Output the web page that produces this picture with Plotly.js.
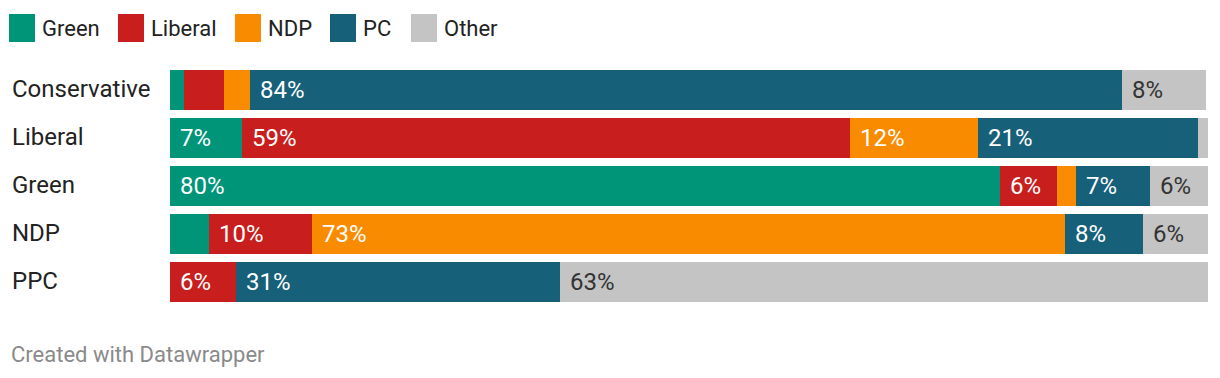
<!DOCTYPE html>
<html>
<head>
<meta charset="utf-8">
<script src="https://cdn.plot.ly/plotly-3.0.1.min.js"></script>
<style>
html,body{margin:0;padding:0;background:#fff;}
#chart{width:1220px;height:378px;}
</style>
</head>
<body>
<div id="chart"></div>
<script>
// Data
var categories = ["Conservative", "Liberal", "Green", "NDP", "PPC"];
var seriesNames = ["Green", "Liberal", "NDP", "PC", "Other"];
var greenVals   = [1.35, 6.94, 79.95, 3.8, 0];
var liberalVals = [3.85, 58.57, 5.5, 9.9, 6.4];
var ndpVals     = [2.5, 12.33, 1.85, 72.5, 0];
var pcVals      = [84.0, 21.19, 7.1, 7.55, 31.2];
var otherVals   = [8.09, 0.96, 5.6, 6.25, 62.6];

var seriesValues = [greenVals, liberalVals, ndpVals, pcVals, otherVals];
var colors = ["#009479", "#c81e1e", "#f98b00", "#17607a", "#c4c4c4"];
var labelColors = ["#ffffff", "#ffffff", "#ffffff", "#ffffff", "#333333"];
var FONT = "Roboto, 'Noto Sans', sans-serif";

var traces = seriesValues.map(function(vals, i){
  return {
    type: "bar",
    orientation: "h",
    name: seriesNames[i],
    y: categories,
    x: vals,
    marker: {color: colors[i], line: {width: 0}},
    showlegend: false,
    hoverinfo: "x+name"
  };
});

var annotations = [];
var shapes = [];
var PW = 1038, PH = 240, PT = 66, PL = 170;
function px(x){ return (x - PL) / PW; }
function py(y){ return (PT + PH - y) / PH; }

// category labels
categories.forEach(function(c){
  annotations.push({
    xref: "paper", yref: "y", x: 0, y: c, xshift: -160, yshift: 1,
    xanchor: "left", yanchor: "middle", text: c, showarrow: false,
    font: {family: FONT, size: 24, color: "#222222"}
  });
});

// value labels
categories.forEach(function(c, ci){
  var cum = 0;
  seriesValues.forEach(function(vals, si){
    var v = vals[ci];
    if (v >= 5) {
      annotations.push({
        xref: "x", yref: "y", x: cum, y: c, xshift: 8,
        xanchor: "left", yanchor: "middle",
        text: Math.round(v) + "%", showarrow: false,
        font: {family: FONT, size: 24, color: labelColors[si]}
      });
    }
    cum += v;
  });
});

// legend (manual)
var legendX = [9, 118, 235, 330, 411];
seriesNames.forEach(function(n, i){
  var x0 = legendX[i];
  shapes.push({
    type: "rect", xref: "paper", yref: "paper",
    x0: px(x0), x1: px(x0 + 26),
    y0: py(42), y1: py(14),
    fillcolor: colors[i], line: {width: 0}
  });
  annotations.push({
    xref: "paper", yref: "paper",
    x: px(x0 + 31), y: py(28.5),
    xanchor: "left", yanchor: "middle", text: n, showarrow: false,
    font: {family: FONT, size: 22, color: "#222222"}
  });
});

// footer
annotations.push({
  xref: "paper", yref: "paper",
  x: px(9), y: py(354),
  xanchor: "left", yanchor: "middle", text: "Created with Datawrapper", showarrow: false,
  font: {family: FONT, size: 22, color: "#8a8a8a"}
});

var layout = {
  width: 1220, height: 378,
  margin: {l: 170, r: 12, t: 66, b: 72, pad: 0},
  barmode: "stack",
  bargap: 8/48,
  paper_bgcolor: "#ffffff",
  plot_bgcolor: "#ffffff",
  xaxis: {range: [0, 100], visible: false, fixedrange: true},
  yaxis: {autorange: "reversed", showticklabels: false, showgrid: false, zeroline: false, showline: false, ticks: "", fixedrange: true},
  annotations: annotations,
  shapes: shapes,
  font: {family: FONT}
};

Plotly.newPlot("chart", traces, layout, {displayModeBar: false, staticPlot: true});
</script>
</body>
</html>
